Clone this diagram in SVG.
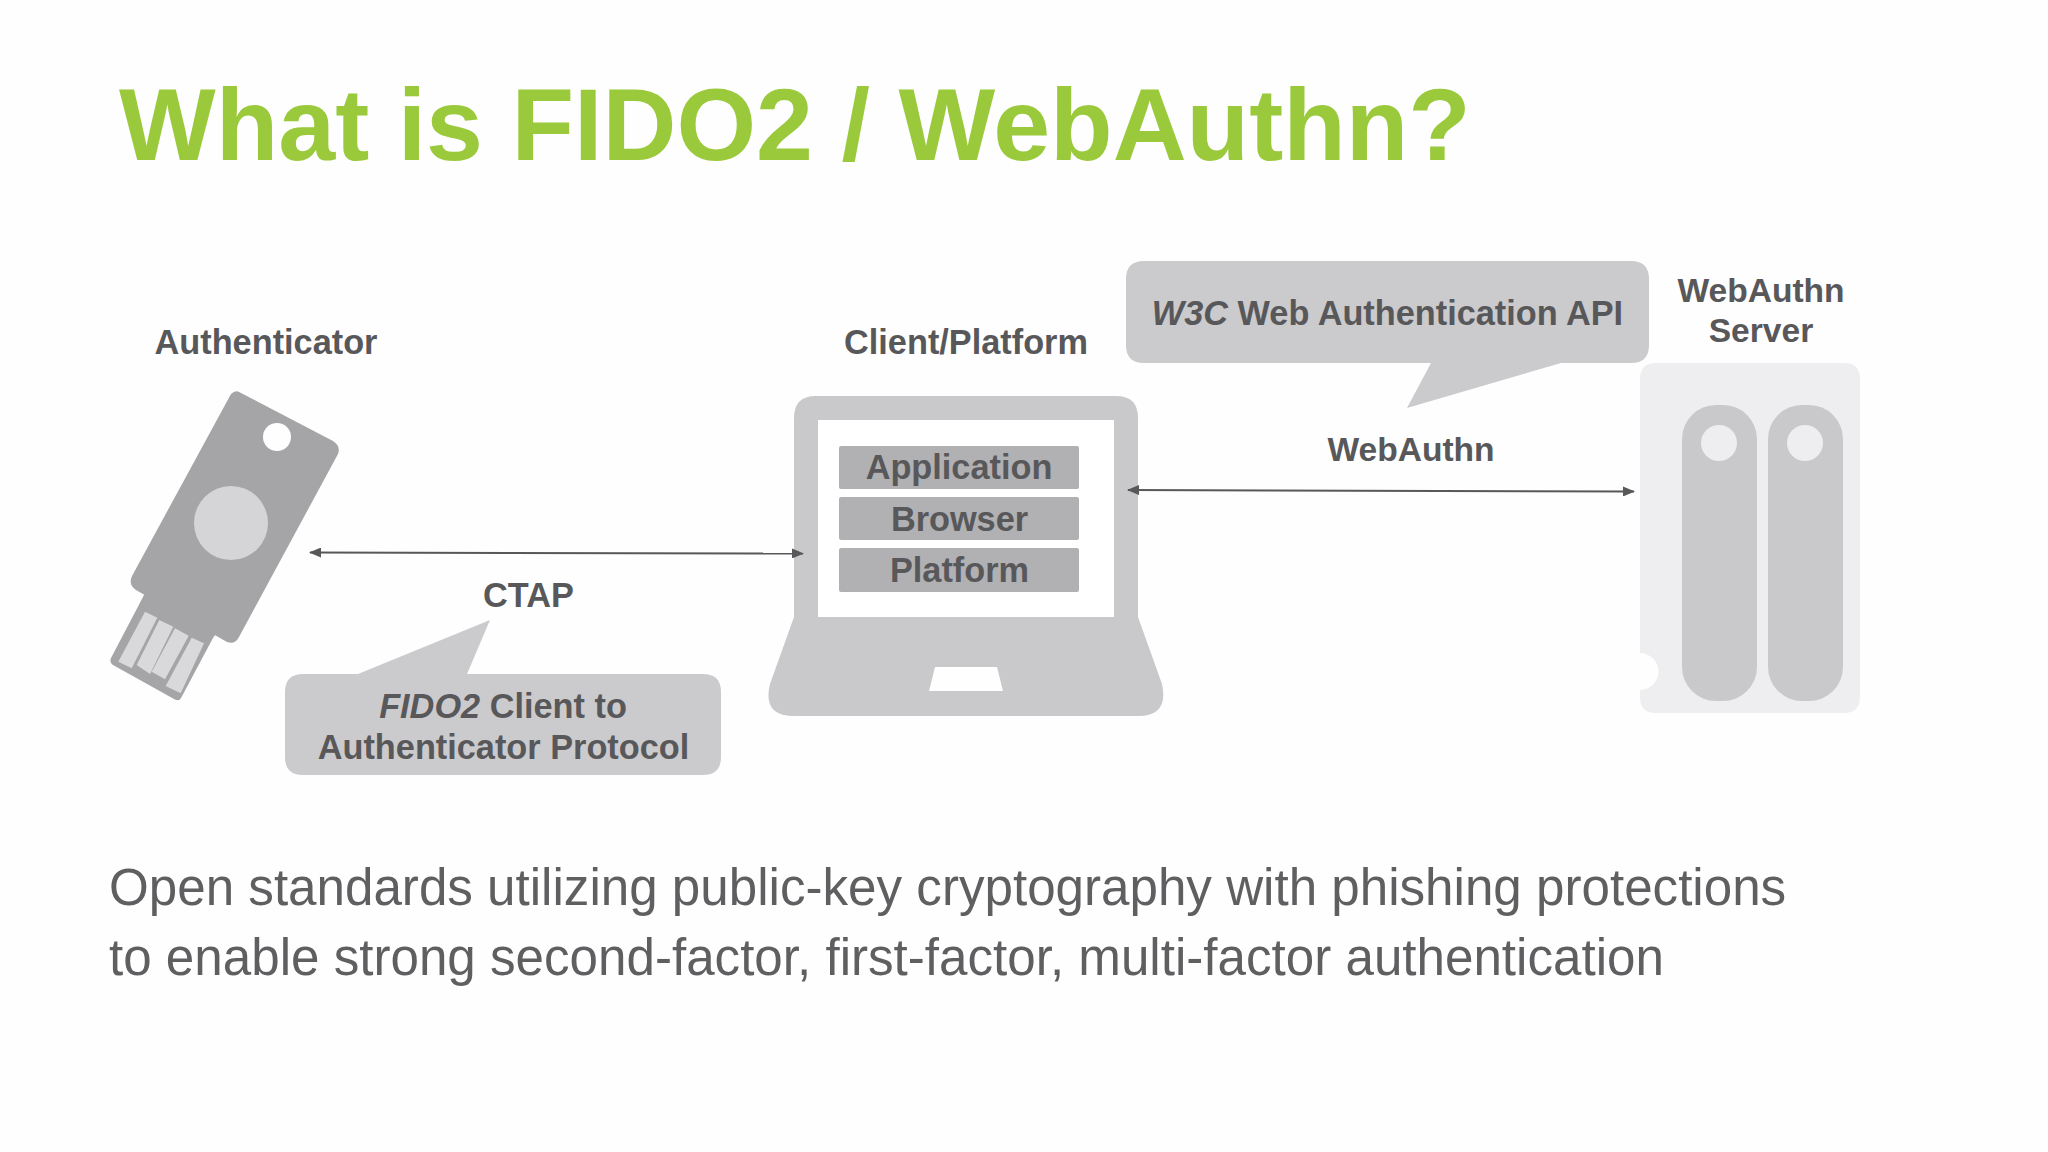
<svg xmlns="http://www.w3.org/2000/svg" width="2048" height="1152" viewBox="0 0 2048 1152">
<style>
text{font-family:"Liberation Sans",Arial,sans-serif;fill:#58585a}
.t{font-weight:700;font-size:34.300px;text-anchor:middle}
.s{font-size:33.600px}
.i{font-style:italic}
.title{font-weight:700;font-size:102.400px;fill:#9aca3c}
.body{font-size:51.150px;fill:#5f5f61}
.bub{fill:#cbcacd}
.conn{stroke:#58585a;stroke-width:2;fill:none;marker-start:url(#a);marker-end:url(#a)}
.row{fill:#b1b0b3}
</style>
<defs>
<marker id="a" viewBox="0 0 12 10" refX="11" refY="5" markerWidth="13" markerHeight="10" markerUnits="userSpaceOnUse" orient="auto-start-reverse"><path d="M0 0L12 5L0 10Z" fill="#58585a"/></marker>
</defs>
<rect width="2048" height="1152" fill="#fefefe"/>
<text id="title" class="title" x="119" y="160">What is FIDO2 / WebAuthn?</text>
<g id="authenticator">
<text class="t" x="266" y="353.500">Authenticator</text>
<path d="M147 588L222 625L213 638L181 698Q179 702 174 699L113 665Q109 662 111 658L143 597Z" fill="#a5a5a7"/>
<g fill="#d9d9db">
<path d="M145 611.700L157.300 617.700L131.700 668.300L118.300 661.700Z"/>
<path d="M159.300 620L173.300 626.700L150 674L136.700 665Z"/>
<path d="M175 628.300L188.700 635.700L165 679.300L151.700 671.700Z"/>
<path d="M191.700 637.700L204 643.300L180.700 693.300L165.700 686Z"/>
</g>
<path d="M231 394Q236 389 241 393L333 441Q341 446 338 454L239 637Q235 645 227 642L136 590Q128 585 132 576Z" fill="#a5a5a7"/>
<circle cx="277" cy="437" r="14" fill="#fefefe"/>
<circle cx="231" cy="523" r="37" fill="#d5d5d7"/>
</g>
<g id="client">
<text class="t" x="966" y="353.500">Client/Platform</text>
<path fill-rule="evenodd" fill="#c9c8cb" d="M816 396H1116Q1138 396 1138 418V617L1162 684Q1169 716 1138 716H794Q762 716 770 684L794 617V418Q794 396 816 396ZM818 420V617H1114V420ZM935 667L929 691H1003L997 667Z"/>
<rect x="818" y="420" width="296" height="197" fill="#fff"/>
<g id="application"><rect class="row" x="839" y="446" width="240" height="43" rx="2"/><text class="t" x="959" y="479">Application</text></g>
<g id="browser"><rect class="row" x="839" y="497" width="240" height="43" rx="2"/><text class="t" x="959.500" y="530.500">Browser</text></g>
<g id="platform"><rect class="row" x="839" y="548" width="240" height="44" rx="2"/><text class="t" x="959.500" y="582">Platform</text></g>
</g>
<g id="server">
<text class="t s" x="1770" y="302" dx="-9">WebAuthn</text>
<text class="t s" x="1770" y="342" dx="-9">Server</text>
<path fill="#eeedf0" d="M1656 363H1844Q1860 363 1860 379V697Q1860 713 1844 713H1656Q1640 713 1640 697V690A18 18 0 0 0 1640 653V379Q1640 363 1656 363Z"/>
<rect x="1691" y="405" width="75" height="296" rx="34" fill="#c9c8cb" transform="translate(-9 0)"/>
<rect x="1778" y="405" width="75" height="296" rx="34" fill="#c9c8cb" transform="translate(-10 0)"/>
<circle cx="1728" cy="443" r="18" fill="#eeedf0" transform="translate(-9 0)"/>
<circle cx="1815" cy="443" r="18" fill="#eeedf0" transform="translate(-10 0)"/>
</g>
<g id="connectors">
<path class="conn" d="M310 552.500L803 553.500"/>
<path class="conn" d="M1128 490L1634 491.500"/>
</g>
<g id="ctap-label"><text class="t" x="528.500" y="607">CTAP</text></g>
<g id="webauthn-label"><text class="t s" x="1411" y="461">WebAuthn</text></g>
<g id="callout-fido2">
<path class="bub" d="M303 674H358L490 620L467 674H703Q721 674 721 692V757Q721 775 703 775H303Q285 775 285 757V692Q285 674 303 674Z"/>
<text class="t" x="503" y="718"><tspan class="i">FIDO2</tspan> Client to</text>
<text class="t" x="503.500" y="758.500">Authenticator Protocol</text>
</g>
<g id="callout-w3c">
<path class="bub" d="M1144 261H1631Q1649 261 1649 279V345Q1649 363 1631 363H1561L1407 408L1431 363H1144Q1126 363 1126 345V279Q1126 261 1144 261Z"/>
<text class="t" x="1387.500" y="325"><tspan class="i">W3C</tspan> Web Authentication API</text>
</g>
<text class="body" x="109" y="905">Open standards utilizing public-key cryptography with phishing protections</text>
<text class="body" x="109" y="974.500">to enable strong second-factor, first-factor, multi-factor authentication</text>
</svg>
